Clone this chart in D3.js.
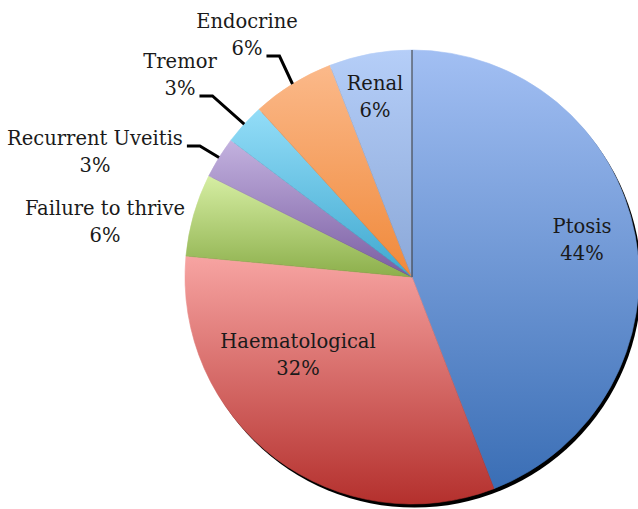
<!DOCTYPE html>
<html>
<head>
<meta charset="utf-8">
<script src="https://cdn.jsdelivr.net/npm/d3@7"></script>
<style>
  html, body { margin: 0; padding: 0; background: #fff; }
  svg text { font-family: "DejaVu Serif", serif; font-size: 19.5px; fill: #1a1a1a; }
</style>
</head>
<body>
<div id="chart"></div>
<script>
// Data (patient counts, n = 34), clockwise from 12 o'clock
const categories = ['Ptosis', 'Haematological', 'Failure to thrive', 'Recurrent Uveitis', 'Tremor', 'Endocrine', 'Renal']
const counts = [15, 11, 2, 1, 1, 2, 2]

// gradient stops per slice: [top, bottom]
const colorsTop = ['#a2bff3', '#f7a4a2', '#d6eea3', '#c3b2df', '#93ddf8', '#fbb98a', '#b5cef8']
const colorsBottom = ['#3a6eb5', '#b4302d', '#8caf4b', '#7a5da2', '#3fa8cf', '#f0893a', '#8ba8d8']

// label layout: text centre x, first baseline y, leader = which text line it leaves from
const labelLayout = {
  'Ptosis': { x: 582, y: 233 },
  'Haematological': { x: 298, y: 348 },
  'Failure to thrive': { x: 105, y: 215 },
  'Recurrent Uveitis': { x: 95, y: 145, leader: 0 },
  'Tremor': { x: 180, y: 68, leader: 1 },
  'Endocrine': { x: 247, y: 28, leader: 1 },
  'Renal': { x: 375, y: 90 },
}

const width = 638
const height = 509
const cx = 412
const cy = 277
const radius = 227
const lineGap = 27

const total = d3.sum(counts)
const data = categories.map((c, i) => ({ name: c, value: counts[i], i }))

const svg = d3.select('#chart')
  .append('svg')
  .attr('width', width)
  .attr('height', height)

const defs = svg.append('defs')

data.forEach(d => {
  const grad = defs.append('linearGradient')
    .attr('id', `grad-${d.i}`)
    .attr('x1', 0).attr('y1', 0)
    .attr('x2', 0).attr('y2', 1)
  grad.append('stop').attr('offset', '0%').attr('stop-color', colorsTop[d.i])
  grad.append('stop').attr('offset', '100%').attr('stop-color', colorsBottom[d.i])
})

defs.append('filter')
  .attr('id', 'blur')
  .append('feGaussianBlur')
  .attr('stdDeviation', 0.5)

const pie = d3.pie()
  .sort(null)
  .value(d => d.value)

const arc = d3.arc()
  .innerRadius(0)
  .outerRadius(radius)

const arcs = pie(data)

const g = svg.append('g')
  .attr('transform', `translate(${cx},${cy})`)

// shadow on the lower right rim
g.append('circle')
  .attr('cx', 2.5)
  .attr('cy', 3.5)
  .attr('r', radius)
  .attr('fill', '#000')
  .attr('filter', 'url(#blur)')

g.selectAll('path.slice')
  .data(arcs)
  .join('path')
  .attr('class', 'slice')
  .attr('d', arc)
  .attr('fill', d => `url(#grad-${d.data.i})`)
  .attr('stroke', d => `url(#grad-${d.data.i})`)
  .attr('stroke-width', 0.6)

// thin rule at 12 o'clock
g.append('line')
  .attr('x1', 0).attr('y1', 0)
  .attr('x2', 0).attr('y2', -radius)
  .attr('stroke', '#333')
  .attr('stroke-width', 1)

// labels
arcs.forEach(a => {
  const d = a.data
  const pos = labelLayout[d.name]
  const pct = Math.round(d.value / total * 100) + '%'

  const t = svg.append('text')
    .attr('text-anchor', 'middle')
  t.append('tspan').attr('x', pos.x).attr('y', pos.y).text(d.name)
  t.append('tspan').attr('x', pos.x).attr('y', pos.y + lineGap).text(pct)

  if (pos.leader != null) {
    // end on the rim at the slice's mid angle
    const mid = (a.startAngle + a.endAngle) / 2
    const ex = cx + radius * Math.sin(mid)
    const ey = cy - radius * Math.cos(mid)
    const lineText = t.selectAll('tspan').nodes()[pos.leader]
    const bb = lineText.getBBox()
    const sx = bb.x + bb.width + 4
    const sy = pos.y + pos.leader * lineGap + 1
    svg.append('path')
      .attr('d', d3.line()([[sx, sy], [sx + 13, sy], [ex, ey]]))
      .attr('fill', 'none')
      .attr('stroke', '#000')
      .attr('stroke-width', 3)
  }
})
</script>
</body>
</html>
